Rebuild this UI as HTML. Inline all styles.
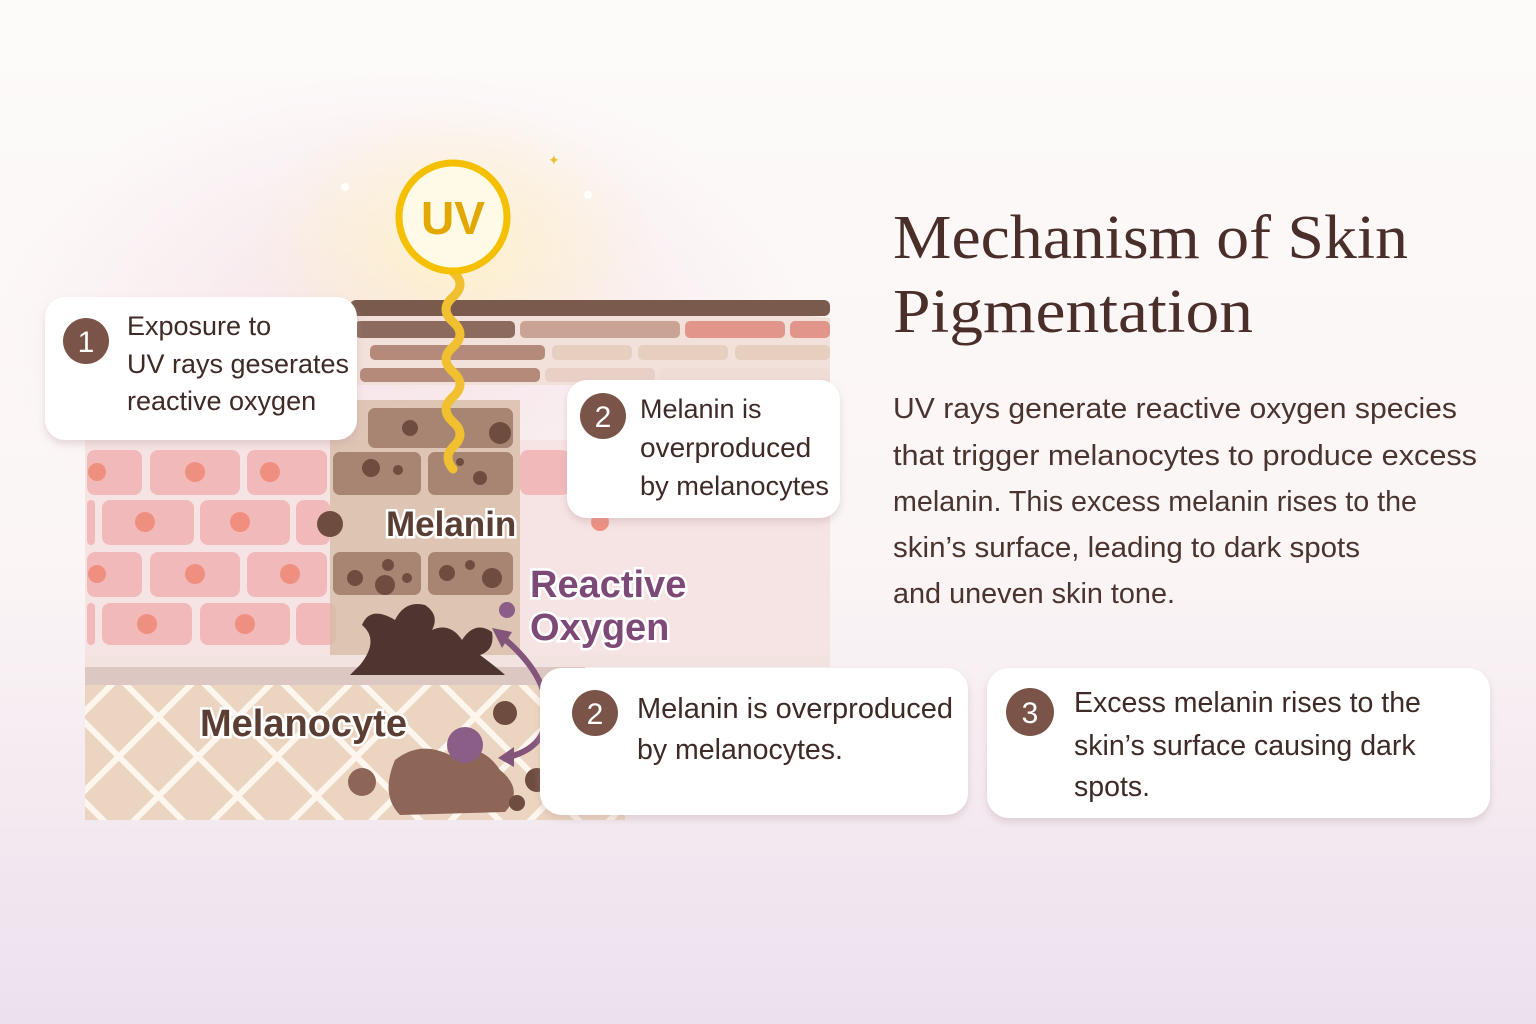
<!DOCTYPE html>
<html><head><meta charset="utf-8"><style>
html,body{margin:0;padding:0;width:1536px;height:1024px;overflow:hidden}
body{background:linear-gradient(#fdfafa 0%,#fbf5f5 55%,#f3e9f0 80%,#ece0ee 100%);font-family:"Liberation Sans",sans-serif}
</style></head><body>
<svg width="1536" height="1024" viewBox="0 0 1536 1024" xmlns="http://www.w3.org/2000/svg" style="position:absolute;left:0;top:0">
<defs>
<radialGradient id="glow" cx="0.5" cy="0.5" r="0.5"><stop offset="0" stop-color="#fff3c8" stop-opacity="0.9"/><stop offset="1" stop-color="#fff3c8" stop-opacity="0"/></radialGradient>
<radialGradient id="pinkglow" cx="0.5" cy="0.5" r="0.5"><stop offset="0" stop-color="#f4dde4" stop-opacity="0.8"/><stop offset="1" stop-color="#f4dde4" stop-opacity="0"/></radialGradient>
<filter id="sh" x="-10%" y="-10%" width="120%" height="130%"><feDropShadow dx="0" dy="4" stdDeviation="4" flood-color="#b89aa0" flood-opacity="0.35"/></filter>
<pattern id="lat" width="56" height="56" patternUnits="userSpaceOnUse" patternTransform="rotate(45)"><rect width="56" height="56" fill="#ecd5c0"/><rect x="0" y="0" width="56" height="6" fill="#fdf6ee"/><rect x="0" y="0" width="6" height="56" fill="#fdf6ee"/></pattern>
</defs>
<ellipse cx="400" cy="330" rx="400" ry="260" fill="url(#pinkglow)"/>
<ellipse cx="455" cy="250" rx="200" ry="150" fill="url(#glow)"/>
<path d="M350 305 Q580 290 830 318 L830 385 L350 385 Z" fill="#f1e1da"/>
<rect x="350" y="300" width="480" height="16" rx="6" fill="#7b5a4e"/>
<g fill="#b48a7b">
<rect x="355" y="321" width="160" height="17" rx="5" fill="#8c6a5d"/><rect x="520" y="321" width="160" height="17" rx="5" fill="#c9a393"/><rect x="685" y="321" width="100" height="17" rx="5" fill="#e2958a"/><rect x="790" y="321" width="40" height="17" rx="5" fill="#e2958a"/>
<rect x="370" y="345" width="175" height="15" rx="5"/><rect x="552" y="345" width="80" height="15" rx="5" fill="#e7cfbf"/><rect x="638" y="345" width="90" height="15" rx="5" fill="#e7cfbf"/><rect x="735" y="345" width="95" height="15" rx="5" fill="#e7cfbf"/>
<rect x="360" y="368" width="180" height="14" rx="5"/><rect x="545" y="368" width="110" height="14" rx="5" fill="#e9d0c6"/><rect x="660" y="368" width="170" height="14" rx="5" fill="#efdcd4"/>
</g>
<rect x="85" y="440" width="745" height="215" fill="#f6e3e3"/>
<g fill="#f2b9bb">
<rect x="87" y="450" width="55" height="45" rx="8"/><rect x="150" y="450" width="90" height="45" rx="8"/><rect x="247" y="450" width="80" height="45" rx="8"/><rect x="520" y="450" width="50" height="45" rx="8"/>
<rect x="87" y="500" width="8" height="45" rx="4"/><rect x="102" y="500" width="92" height="45" rx="8"/><rect x="200" y="500" width="90" height="45" rx="8"/><rect x="296" y="500" width="34" height="45" rx="8"/>
<rect x="87" y="552" width="55" height="45" rx="8"/><rect x="150" y="552" width="90" height="45" rx="8"/><rect x="247" y="552" width="80" height="45" rx="8"/>
<rect x="87" y="603" width="8" height="42" rx="4"/><rect x="102" y="603" width="90" height="42" rx="8"/><rect x="200" y="603" width="90" height="42" rx="8"/><rect x="296" y="603" width="40" height="42" rx="8"/>
</g>
<g fill="#ef8f80">
<circle cx="97" cy="472" r="9"/><circle cx="195" cy="472" r="10"/><circle cx="270" cy="472" r="10"/><circle cx="145" cy="522" r="10"/><circle cx="240" cy="522" r="10"/><circle cx="97" cy="574" r="9"/><circle cx="195" cy="574" r="10"/><circle cx="290" cy="574" r="10"/><circle cx="147" cy="624" r="10"/><circle cx="245" cy="624" r="10"/><circle cx="600" cy="522" r="9"/>
</g>
<rect x="330" y="400" width="190" height="260" fill="#d7bba6" opacity="0.8"/>
<g fill="#a88572">
<rect x="368" y="408" width="145" height="40" rx="7"/><rect x="333" y="452" width="88" height="43" rx="7"/><rect x="428" y="452" width="85" height="43" rx="7"/>
<rect x="333" y="552" width="88" height="43" rx="7"/><rect x="428" y="552" width="85" height="43" rx="7"/>
</g>
<g fill="#6e4c40">
<circle cx="410" cy="428" r="8"/><circle cx="371" cy="468" r="9"/><circle cx="398" cy="470" r="5"/><circle cx="460" cy="462" r="4"/><circle cx="480" cy="478" r="7"/><circle cx="388" cy="565" r="6"/><circle cx="407" cy="578" r="5"/><circle cx="355" cy="578" r="8"/><circle cx="447" cy="573" r="8"/><circle cx="492" cy="578" r="10"/><circle cx="470" cy="565" r="5"/><circle cx="500" cy="433" r="11"/><circle cx="330" cy="524" r="13"/><circle cx="385" cy="585" r="10"/>
</g>
<rect x="85" y="655" width="745" height="12" fill="#f3e3e0"/>
<rect x="85" y="667" width="500" height="18" fill="#dcc7c2"/>
<rect x="85" y="685" width="540" height="135" fill="url(#lat)"/>
<path d="M360 665 Q380 640 362 625 Q370 605 395 620 Q405 600 425 605 Q440 615 432 630 Q450 622 462 640 Q475 620 492 632 Q495 650 480 655 Q500 670 505 675 L350 675 Z" fill="#4e3530"/>
<path d="M395 760 Q420 740 450 755 Q480 740 500 770 Q525 790 505 812 L400 815 Q380 795 395 760 Z" fill="#8d6658"/>
<circle cx="362" cy="782" r="14" fill="#8d6658"/><circle cx="537" cy="780" r="12" fill="#6e4c40"/><circle cx="517" cy="803" r="8" fill="#6e4c40"/><circle cx="505" cy="713" r="12" fill="#6e4c40"/>
<circle cx="465" cy="745" r="18" fill="#8a5e86"/><circle cx="592" cy="775" r="17" fill="#d9bcd6"/><circle cx="507" cy="610" r="8" fill="#8a5e86"/>
<path d="M500 635 Q555 680 545 725 Q540 750 505 758" fill="none" stroke="#84557a" stroke-width="6"/>
<path d="M492 628 L512 632 L502 648 Z" fill="#84557a"/><path d="M498 758 L514 747 L514 767 Z" fill="#84557a"/>
<path d="M453 272 q14 12 0 25 q-14 12 0 25 q14 12 0 25 q-14 12 0 25 q14 12 0 25 q-14 12 0 25 q14 12 0 25 q-10 10 0 22" fill="none" stroke="#f0c030" stroke-width="9" stroke-linecap="round"/>
<circle cx="453" cy="217" r="54" fill="#fffbe6" stroke="#f5c000" stroke-width="7"/>
<text x="453" y="234" text-anchor="middle" font-size="46" font-weight="bold" fill="#e3a800">UV</text>
<g font-weight="bold" stroke="#fff" stroke-width="5" paint-order="stroke">
<text x="386" y="536" font-size="35" fill="#5a3d33">Melanin</text>
<text x="530" y="597" font-size="38" fill="#7d4a78">Reactive</text>
<text x="530" y="640" font-size="38" fill="#7d4a78">Oxygen</text>
<text x="200" y="736" font-size="38" fill="#5a3d33">Melanocyte</text>
</g>
<g filter="url(#sh)" fill="#fff">
<rect x="45" y="297" width="312" height="143" rx="20"/>
<rect x="567" y="380" width="273" height="138" rx="20"/>
<rect x="540" y="668" width="428" height="147" rx="22"/>
<rect x="987" y="668" width="503" height="150" rx="22"/>
</g>
<g fill="#7a5448">
<circle cx="86" cy="341" r="23"/><circle cx="603" cy="416" r="23"/><circle cx="595" cy="713" r="23"/><circle cx="1030" cy="712" r="24"/>
</g>
<g fill="#fff" font-size="30" text-anchor="middle">
<text x="86" y="352">1</text><text x="603" y="427">2</text><text x="595" y="724">2</text><text x="1030" y="723">3</text>
</g>
<g fill="#3e2a26" font-size="27">
<text x="127" y="335">Exposure to</text><text x="127" y="373" textLength="222" lengthAdjust="spacingAndGlyphs">UV rays geserates</text><text x="127" y="410">reactive oxygen</text>
<text x="640" y="418">Melanin is</text><text x="640" y="457" font-size="28">overproduced</text><text x="640" y="495" textLength="189" lengthAdjust="spacingAndGlyphs">by melanocytes</text>
</g>
<g fill="#3e2a26" font-size="28.5">
<text x="637" y="718" textLength="316" lengthAdjust="spacingAndGlyphs">Melanin is overproduced</text><text x="637" y="759">by melanocytes.</text>
<text x="1074" y="712">Excess melanin rises to the</text><text x="1074" y="755">skin’s surface causing dark</text><text x="1074" y="796">spots.</text>
</g>
<g font-family="Liberation Serif,serif" font-size="62" fill="#4a2e2a">
<text x="893" y="258" textLength="515" lengthAdjust="spacingAndGlyphs">Mechanism of Skin</text><text x="893" y="332" textLength="360" lengthAdjust="spacingAndGlyphs">Pigmentation</text>
</g>
<g font-size="28.5" fill="#4a3430">
<text x="893" y="418" textLength="564" lengthAdjust="spacingAndGlyphs">UV rays generate reactive oxygen species</text>
<text x="893" y="465" textLength="584" lengthAdjust="spacingAndGlyphs">that trigger melanocytes to produce excess</text>
<text x="893" y="511" textLength="524" lengthAdjust="spacingAndGlyphs">melanin. This excess melanin rises to the</text>
<text x="893" y="557" textLength="467" lengthAdjust="spacingAndGlyphs">skin’s surface, leading to dark spots</text>
<text x="893" y="603" textLength="282" lengthAdjust="spacingAndGlyphs">and uneven skin tone.</text>
</g>
<g fill="#fff" opacity="0.9"><circle cx="345" cy="187" r="4"/><circle cx="588" cy="195" r="4"/></g>
<text x="548" y="165" font-size="14" fill="#e8c030">✦</text>
</svg>
</body></html>
